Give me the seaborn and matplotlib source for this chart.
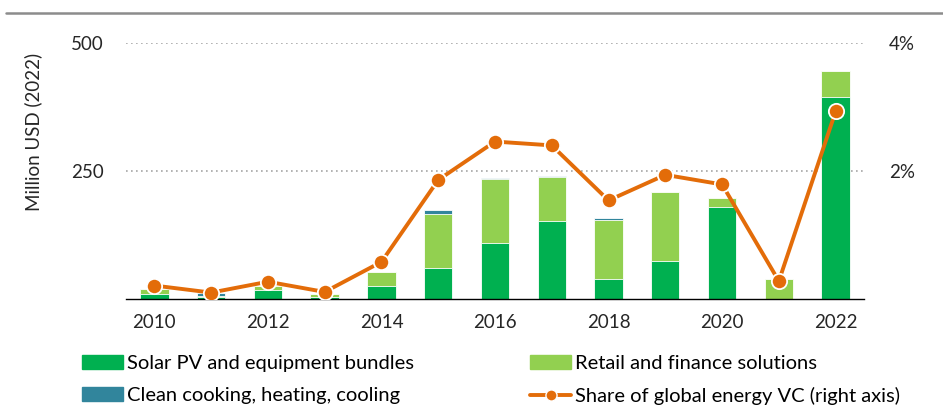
import numpy as np
import pandas as pd
import seaborn as sns
import matplotlib.pyplot as plt
from matplotlib.lines import Line2D
import matplotlib.patches as mpatches

years = list(range(2010, 2023))
solar_pv = [9, 4, 17, 4, 26, 61, 110, 152, 40, 75, 180, 0, 395]
retail_finance = [10, 2, 8, 6, 26, 105, 124, 86, 115, 134, 17, 39, 50]
clean_cooking = [0, 6, 0, 0, 0, 7, 3, 2, 4, 0, 0, 0, 0]
share_vc = [0.21, 0.10, 0.27, 0.11, 0.58, 1.86, 2.46, 2.40, 1.54, 1.94, 1.79, 0.28, 2.93]

DARK_GREEN = "#00B050"
LIGHT_GREEN = "#92D050"
TEAL = "#31859C"
ORANGE = "#E36C09"

sns.set_theme(style="white")
plt.rcParams["font.family"] = ["Lato", "DejaVu Sans"]
plt.rcParams["text.color"] = "#000000"

df = pd.DataFrame({"year": years, "solar": solar_pv, "retail": retail_finance,
                   "clean": clean_cooking, "share": share_vc})
df["solar_retail"] = df["solar"] + df["retail"]
df["total"] = df["solar_retail"] + df["clean"]

fig = plt.figure(figsize=(9.43, 4.05), dpi=100)
ax = fig.add_axes([126 / 943, 1 - 299 / 405, 738 / 943, 256 / 405])

# stacked bars drawn as layers: total, then solar+retail, then solar
for col, colour in [("total", TEAL), ("solar_retail", LIGHT_GREEN), ("solar", DARK_GREEN)]:
    sns.barplot(data=df, x="year", y=col, native_scale=True, width=0.5,
                color=colour, saturation=1, edgecolor="white", linewidth=0.6, ax=ax)

ax.set_xlim(2009.5, 2022.5)
ax.set_ylim(0, 500)
ax.set_yticks([250, 500])
ax.set_yticklabels(["250", "500"])
ax.set_xticks(years[::2])
ax.set_xticklabels([str(y) for y in years[::2]])
ax.tick_params(axis="x", length=0, pad=11, labelsize=13.5)
ax.tick_params(axis="y", length=0, pad=16, labelsize=13.5)
ax.set_axisbelow(True)
ax.yaxis.grid(True, color="#A6A6A6", linestyle=(0, (1, 2)), linewidth=1.2)
ax.xaxis.grid(False)
for side in ["top", "right", "left"]:
    ax.spines[side].set_visible(False)
ax.spines["bottom"].set_color("black")
ax.spines["bottom"].set_linewidth(1.0)
ax.set_xlabel("")
ax.set_ylabel("Million USD (2022)", fontsize=13.5)
ax.yaxis.set_label_coords(-0.114, 0.652)

ax2 = ax.twinx()
sns.lineplot(data=df, x="year", y="share", ax=ax2, color=ORANGE, linewidth=2.8,
             marker="o", markersize=11, markeredgecolor="white", markeredgewidth=1.3)
ax2.set_ylim(0, 4)
ax2.set_yticks([2, 4])
ax2.set_yticklabels(["2%", "4%"])
ax2.tick_params(axis="y", length=0, pad=18, labelsize=13.5)
ax2.set_ylabel("")
for side in ["top", "right", "left", "bottom"]:
    ax2.spines[side].set_visible(False)

fig.add_artist(Line2D([6 / 943, 1], [1 - 13 / 405, 1 - 13 / 405], color="#8C8C8C", linewidth=1.8))

handles = [
    mpatches.Patch(color=DARK_GREEN, label="Solar PV and equipment bundles"),
    mpatches.Patch(color=TEAL, label="Clean cooking, heating, cooling"),
    mpatches.Patch(color=LIGHT_GREEN, label="Retail and finance solutions"),
    Line2D([0], [0], color=ORANGE, linewidth=2.8, marker="o", markersize=8,
           markeredgecolor="white", markeredgewidth=1, label="Share of global energy VC (right axis)"),
]
fig.legend(handles=handles, ncol=2, loc="upper left", bbox_to_anchor=(82 / 943, 1 - 355 / 405),
           frameon=False, fontsize=14.5, borderpad=0, borderaxespad=0, handlelength=2.05,
           handleheight=0.65, handletextpad=0.2, labelspacing=0.75, columnspacing=5.75)

fig.savefig("out.png", dpi=100)
